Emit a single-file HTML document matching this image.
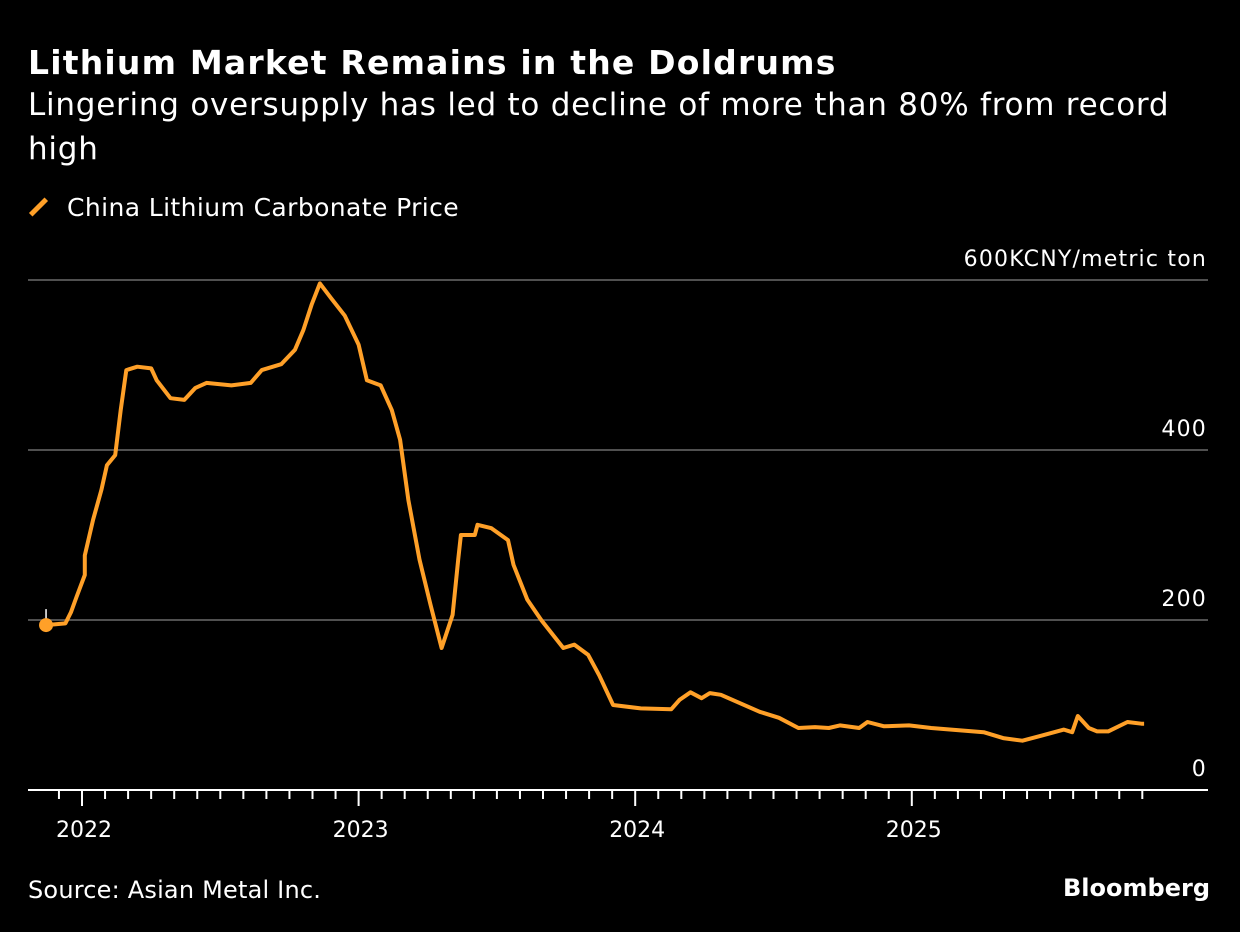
<!DOCTYPE html>
<html><head><meta charset="utf-8"><style>
body{margin:0;background:#000;width:1240px;height:932px;overflow:hidden;font-family:"DejaVu Sans","Liberation Sans",sans-serif;color:#fff}
#title{position:absolute;left:28px;top:43px;font-size:33px;font-weight:bold;letter-spacing:1.2px}
#sub{position:absolute;left:28px;top:83px;font-size:31px;line-height:44px;width:1160px;letter-spacing:0.75px}
#legend{position:absolute;left:28px;top:193px;font-size:25px;letter-spacing:0.4px}
#src{position:absolute;left:28px;top:876px;font-size:24px;letter-spacing:0.2px}
#brand{position:absolute;right:30px;top:874px;font-size:24px;font-weight:bold}
svg{position:absolute;left:0;top:0}
</style></head><body>
<div id="title">Lithium Market Remains in the Doldrums</div>
<div id="sub">Lingering oversupply has led to decline of more than 80% from record high</div>
<div id="legend"><span style="display:inline-block;width:5px;height:22px;background:#ffa028;transform:rotate(45deg);margin:0 26px -2px 8px"></span>China Lithium Carbonate Price</div>
<div id="src">Source: Asian Metal Inc.</div>
<div id="brand">Bloomberg</div>
<svg id="chart" width="1240" height="932"></svg>
<script>
const dates=[2021.87,2021.94,2021.96,2021.98,2022.01,2022.01,2022.04,2022.07,2022.09,2022.12,2022.14,2022.16,2022.20,2022.25,2022.27,2022.32,2022.37,2022.41,2022.45,2022.54,2022.61,2022.65,2022.72,2022.77,2022.80,2022.83,2022.86,2022.90,2022.95,2023.00,2023.03,2023.08,2023.12,2023.15,2023.18,2023.22,2023.26,2023.30,2023.34,2023.36,2023.37,2023.42,2023.43,2023.48,2023.54,2023.56,2023.61,2023.66,2023.74,2023.78,2023.83,2023.87,2023.92,2024.02,2024.13,2024.16,2024.20,2024.24,2024.27,2024.31,2024.38,2024.45,2024.52,2024.59,2024.65,2024.70,2024.74,2024.81,2024.84,2024.90,2024.99,2025.07,2025.26,2025.33,2025.40,2025.47,2025.55,2025.58,2025.60,2025.64,2025.67,2025.71,2025.78,2025.83,2025.84];
const values=[194,196,209,227,253,276,318,353,382,394,447,494,498,496,482,461,459,473,479,476,479,494,501,518,541,571,596,579,558,524,482,476,447,412,341,271,218,167,206,271,300,300,312,308,294,265,224,200,167,171,159,135,100,96,95,106,115,108,114,112,102,92,85,73,74,73,76,73,80,75,76,73,68,61,58,64,71,68,87,73,69,69,80,78,78];
const yTicks=[0,200,400,600];
const years=[2022,2023,2024,2025];
const X=d=>82+(d-2022)*276.6, Y=v=>790-v*0.85;
const svg=document.getElementById('chart'),NS='http://www.w3.org/2000/svg';
function mk(t,a){const e=document.createElementNS(NS,t);for(const k in a)e.setAttribute(k,a[k]);svg.appendChild(e);return e;}
yTicks.forEach(v=>{
 if(v>0){const g=mk('line',{x1:28,x2:1208,y1:Y(v),y2:Y(v),stroke:'#6a6a6a','stroke-width':1.5});
 
 }
 const t=mk('text',{x:1207,y:Y(v)-14,'text-anchor':'end',fill:'#fff','font-size':22,'letter-spacing':1.2,'font-family':'DejaVu Sans'});
 t.textContent=v===600?'600KCNY/metric ton':v;
 
 
});
const ax=mk('line',{x1:28,x2:1208,y1:790,y2:790,stroke:'#fff','stroke-width':2});


for(let m=-1;m<=46;m++){const d=2022+m/12,x=X(d);const big=m%12===0;
 const tk=mk('line',{x1:x,x2:x,y1:790,y2:big?806:799,stroke:'#fff','stroke-width':2});
 
 }
years.forEach(y=>{const t=mk('text',{x:X(y)+2,y:837,'text-anchor':'middle',fill:'#fff','font-size':22,'font-family':'DejaVu Sans'});t.textContent=y;
 
 });
const st=mk('line',{x1:X(dates[0]),x2:X(dates[0]),y1:Y(values[0]),y2:Y(values[0])-16,stroke:'#fff','stroke-width':1.5});


const p=mk('path',{d:dates.map((d,i)=>(i?'L':'M')+X(d).toFixed(1)+','+Y(values[i]).toFixed(1)).join(''),fill:'none',stroke:'#ffa028','stroke-width':4,'stroke-linejoin':'round'});


const c=mk('circle',{cx:X(dates[0]),cy:Y(values[0]),r:7,fill:'#ffa028'});


</script>
</body></html>
